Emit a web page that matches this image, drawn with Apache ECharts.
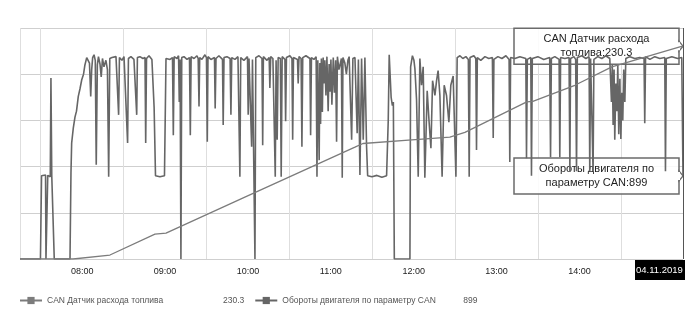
<!DOCTYPE html>
<html><head><meta charset="utf-8">
<script src="https://cdn.jsdelivr.net/npm/echarts@6/dist/echarts.min.js"></script>
<style>html,body{margin:0;padding:0;background:#fff}#c{width:699px;height:325px}</style>
</head><body><div id="c"></div>
<script>
// Names / labels
const seriesNames = ['CAN Датчик расхода топлива', 'Обороты двигателя по параметру CAN'];
const tooltipNames = ['CAN Датчик расхода\nтоплива', 'Обороты двигателя по\nпараметру CAN'];
const dateLabel = '04.11.2019';
// x range in minutes since midnight (07:15 - 15:15)
const xMin = 435, xMax = 915;
// quarter-hour tick categories across the range (labels shown on full hours, grid on half hours)
const tickLabels = ['07:15','07:30','07:45','08:00','08:15','08:30','08:45','09:00','09:15','09:30','09:45',
  '10:00','10:15','10:30','10:45','11:00','11:15','11:30','11:45','12:00','12:15','12:30','12:45',
  '13:00','13:15','13:30','13:45','14:00','14:15','14:30','14:45','15:00','15:15'];

// Fuel consumption (CAN) — times in minutes since midnight
const fuelTimes  = [435, 473.4, 500.1, 532.7, 540.7, 597.8, 677.5, 683.3, 718.7, 746.2, 757.1, 801.9, 806.3, 836.7, 863.5, 912.7, 915];
const fuelValues = [0,   0,     4.3,   27,    28,    67,    121,   125,   129,   132,   137,   170,   170.5, 188,   208,   229.5, 230.3];

// Engine RPM (CAN) — times in minutes since midnight
const rpmTimes = [
 435.0,449.8,450.6,453.5,453.8,454.5,455.1,456.9,457.4,458.0,459.2,459.8,
 471.2,471.9,472.4,473.6,474.8,475.9,477.2,478.4,479.7,481.0,482.0,483.3,
 484.4,485.3,486.2,486.9,487.6,488.6,489.5,490.2,491.0,491.8,492.9,493.8,
 494.7,495.8,497.2,498.3,499.2,500.0,501.6,503.0,504.5,505.9,506.4,507.0,
 508.8,510.3,511.7,512.9,513.5,515.3,517.5,519.5,520.0,521.8,524.0,525.5,
 526.0,526.6,528.4,530.5,531.6,532.1,533.1,536.3,539.6,540.7,542.1,543.6,
 545.4,546.0,546.6,548.6,549.8,550.3,550.9,551.5,552.1,553.7,555.9,557.7,
 558.3,558.9,561.0,563.1,564.0,564.6,565.1,566.7,568.9,570.0,570.6,571.1,
 573.2,575.8,576.3,576.9,579.0,581.6,582.1,582.7,584.8,587.1,587.7,588.3,
 590.6,592.8,593.7,594.2,594.8,597.1,599.7,600.2,600.8,602.2,602.7,603.3,
 604.6,605.1,605.7,608.0,610.2,610.7,611.2,613.8,615.4,615.9,616.5,618.1,
 619.3,619.8,620.4,621.2,621.9,623.5,624.1,624.8,626.8,627.3,627.9,630.4,
 631.9,632.4,633.0,635.9,636.4,637.0,638.5,639.1,639.7,642.0,644.9,645.4,
 646.0,647.8,649.4,650.0,650.6,651.6,652.1,652.6,653.2,653.9,654.5,655.0,
 655.7,656.5,657.2,658.1,658.8,659.4,660.1,660.8,661.8,662.6,663.5,664.2,
 664.8,665.9,667.7,668.3,668.8,670.2,671.3,672.4,673.3,675.1,676.0,677.5,
 679.1,680.0,681.1,682.3,683.5,684.7,685.9,686.7,689.8,693.4,697.0,700.4,
 701.6,702.3,703.0,703.7,704.6,705.3,706.0,717.3,717.8,719.1,720.2,720.9,
 722.1,723.3,724.5,725.7,726.9,728.1,729.8,731.2,732.5,733.7,735.4,736.6,
 737.7,739.0,740.6,742.1,743.8,745.5,746.9,748.6,750.6,751.5,753.5,755.6,
 757.8,759.6,760.2,760.8,763.6,765.0,765.5,766.1,768.6,771.6,774.4,777.0,
 777.6,778.1,781.0,783.9,786.8,789.1,789.6,790.2,793.3,796.9,801.2,801.7,
 802.3,804.8,805.3,805.9,809.9,814.2,818.5,819.1,819.7,822.2,825.3,825.8,
 826.4,829.5,832.5,833.1,833.6,836.0,837.3,837.9,838.5,841.8,844.7,847.0,
 847.5,848.1,849.4,849.9,850.5,853.3,856.2,859.1,862.0,863.2,863.8,864.4,
 865.1,865.6,866.4,867.1,867.8,868.5,869.3,870.0,870.7,871.4,872.1,872.9,
 873.6,876.5,880.1,883.7,886.8,887.3,887.9,891.0,894.6,898.2,901.8,902.3,
 902.9,906.9,911.2,914.1,915.0
];
const rpmValues = [
 0,0,900,910,0,0,905,890,1960,900,900,0,
 0,930,1255,1420,1535,1600,1760,1840,1940,2000,2100,2180,
 2200,2120,1760,2050,2180,2210,2150,1020,2100,2190,2110,1970,
 2170,2080,2150,2050,890,2170,2180,2160,2190,2170,1560,2180,
 2150,2190,2170,1255,2170,2190,2160,1560,2180,2190,2170,2180,
 1255,2170,2200,2160,2180,1640,900,890,900,2170,2190,2160,
 2180,1340,2190,2170,2200,1700,2160,0,2180,2190,2160,2180,
 1340,2190,2170,2200,2170,1650,2180,2160,2210,2180,1270,2190,
 2160,2180,1630,2170,2200,2160,1450,2180,2190,2170,1560,2180,
 2160,2190,2170,890,2180,2150,2190,1560,2170,2180,1215,2160,
 2170,0,2180,2200,2170,1230,2190,2150,2180,1850,2190,2170,
 2180,890,2150,1290,2180,2170,890,2190,2160,1490,2180,2200,
 2170,1290,2180,2160,1900,2190,2170,1215,2180,2200,2170,1340,
 2180,2160,2190,890,2150,1070,2120,1460,2170,1590,2180,1900,
 2150,1770,2190,1600,2110,1810,2160,1670,2180,1800,2150,1270,
 2190,2050,2170,880,2180,2120,2000,2150,2190,1290,2170,2180,
 1360,2160,910,2170,1290,2180,1220,900,890,905,885,900,
 1500,2210,2230,1750,1660,1700,0,0,2080,2200,2150,2060,
 1720,890,2170,1880,2080,880,1820,1480,1200,1930,1770,1930,
 2040,1770,890,1880,1770,1480,1880,1980,890,2180,2200,2170,
 2190,2160,890,2180,2200,2170,1180,2180,2150,2190,2170,2180,
 1310,2160,2190,2170,2200,2160,1050,2180,2170,2190,2170,1090,
 2160,2180,900,2170,2190,2160,2180,1100,2170,2190,2160,1100,
 2180,2170,2180,950,2170,2190,2160,950,2180,2200,2170,2190,
 950,2170,2180,950,2160,2190,2170,2200,2170,1700,2100,1450,
 2050,1290,1900,1600,2100,1350,1950,1300,1800,1500,2050,1700,
 2170,2190,2170,2180,2170,1470,2190,2160,2190,2170,2180,950,
 2170,2190,2170,2180,899
];

const zip = (a, b) => a.map((t, i) => [t, b[i]]);
const fuelLast = fuelValues[fuelValues.length - 1];
const rpmLast = rpmValues[rpmValues.length - 1];
const legendValues = [fuelLast, rpmLast];

const chart = echarts.init(document.getElementById('c'), null, {renderer: 'canvas'});
const FONT = 'Liberation Sans, Arial, sans-serif';

chart.setOption({
  animation: false,
  backgroundColor: '#fff',
  grid: {left: 20, right: 16, top: 28, bottom: 66},
  legend: {
    left: 19, top: 296, padding: 0, itemWidth: 22, itemHeight: 9, itemGap: 10,
    data: seriesNames,
    textStyle: {
      fontFamily: FONT, fontSize: 8.5, color: '#555',
      rich: {
        n0: {width: 176, fontFamily: FONT, fontSize: 8.5, color: '#555'},
        n1: {width: 181, fontFamily: FONT, fontSize: 8.5, color: '#555'},
        v: {fontFamily: FONT, fontSize: 8.5, color: '#555'}
      }
    },
    formatter: name => {
      const i = seriesNames.indexOf(name);
      return '{n' + i + '|' + name + '}{v|' + legendValues[i] + '}';
    }
  },
  xAxis: [
    {
      // data axis (minutes since midnight)
      type: 'value', min: xMin, max: xMax, position: 'bottom',
      axisLine: {show: false}, axisTick: {show: false}, splitLine: {show: false},
      axisLabel: {show: false}
    },
    {
      // label / grid axis: quarter-hour categories over the same span
      type: 'category', data: tickLabels, boundaryGap: false, position: 'bottom',
      axisLine: {show: false}, axisTick: {show: false},
      axisLabel: {
        fontFamily: FONT, fontSize: 9, color: '#222', margin: 8,
        // the last full hour sits under the date badge, so it is not shown
        interval: (i, v) => v.endsWith(':00') && i < tickLabels.length - 2
      },
      splitLine: {
        show: true, lineStyle: {color: '#dedede', width: 1},
        interval: (i, v) => v.endsWith(':30') || i === 0
      }
    }
  ],
  yAxis: [
    {
      type: 'value', min: 0, max: 2500, interval: 500,
      axisLine: {show: false}, axisTick: {show: false}, axisLabel: {show: false},
      splitLine: {show: true, lineStyle: {color: '#cfcfcf', width: 1.2}}
    },
    {
      type: 'value', min: 0, max: 250, show: false, splitLine: {show: false}
    }
  ],
  series: [
    {
      name: seriesNames[0], type: 'line', xAxisIndex: 0, yAxisIndex: 1,
      data: zip(fuelTimes, fuelValues),
      symbol: 'rect', symbolSize: 6, showSymbol: false,
      itemStyle: {color: '#7c7c7c'},
      lineStyle: {color: '#7c7c7c', width: 1.3},
      z: 3
    },
    {
      name: seriesNames[1], type: 'line', xAxisIndex: 0, yAxisIndex: 0,
      data: zip(rpmTimes, rpmValues),
      symbol: 'rect', symbolSize: 6, showSymbol: false,
      itemStyle: {color: '#666'},
      lineStyle: {color: '#666', width: 1.6},
      z: 2,
      markLine: {
        silent: true, symbol: ['none', 'none'], label: {show: false},
        lineStyle: {color: '#555', width: 1, type: 'solid'},
        data: [{xAxis: xMax}]
      }
    }
  ]
});

function box(anchor, text, id) {
  const w = 165, h = 36;
  const bx = anchor[0] - 4 - w, by = anchor[1] - h / 2;
  const ax = anchor[0], ay = anchor[1];
  return {
    type: 'group', id: id, z: 100, children: [
      {type: 'rect', shape: {x: bx, y: by, width: w, height: h},
       style: {fill: 'rgba(255,255,255,0.86)', stroke: '#6b6b6b', lineWidth: 1.5}},
      {type: 'polygon', shape: {points: [[bx + w, ay - 5], [ax, ay], [bx + w, ay + 5]]},
       style: {fill: '#fff', stroke: '#6b6b6b', lineWidth: 1.3}},
      {type: 'line', shape: {x1: bx + w, y1: ay - 4, x2: bx + w, y2: ay + 4},
       style: {stroke: '#fff', lineWidth: 2}},
      {type: 'text', x: bx + w / 2, y: by + h / 2,
       style: {text: text, fill: '#1e1e1e', font: '11px ' + FONT,
               align: 'center', verticalAlign: 'middle', lineHeight: 14}}
    ]
  };
}

const pFuel = chart.convertToPixel({xAxisIndex: 0, yAxisIndex: 1}, [xMax, fuelLast]);
const pRpm = chart.convertToPixel({xAxisIndex: 0, yAxisIndex: 0}, [xMax, rpmLast]);
const pBase = chart.convertToPixel({xAxisIndex: 0, yAxisIndex: 0}, [xMax, 0]);

chart.setOption({
  graphic: [
    box(pFuel, tooltipNames[0] + ':' + fuelLast, 'gFuel'),
    box(pRpm, tooltipNames[1] + ':' + rpmLast, 'gRpm'),
    {
      type: 'group', id: 'gDate', z: 100, children: [
        {type: 'rect', shape: {x: pBase[0] - 48, y: pBase[1] + 1, width: 50, height: 20},
         style: {fill: '#000'}},
        {type: 'text', x: pBase[0] - 47, y: pBase[1] + 11,
         style: {text: dateLabel, fill: '#fff', font: '9.5px ' + FONT,
                 align: 'left', verticalAlign: 'middle'}}
      ]
    }
  ]
});
</script>
</body></html>
